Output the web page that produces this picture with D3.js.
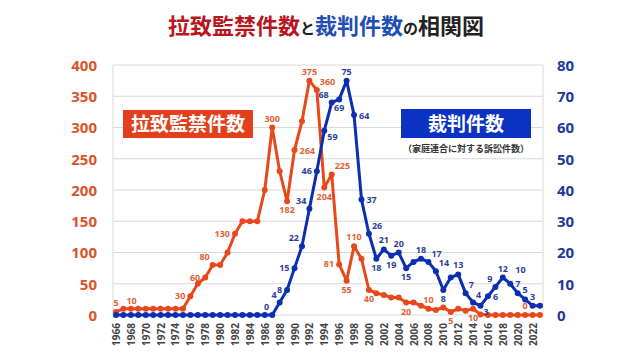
<!DOCTYPE html>
<html><head><meta charset="utf-8">
<script src="https://cdn.jsdelivr.net/npm/d3@7"></script>
<style>
html,body{margin:0;padding:0;background:#fff;}
svg{display:block;}
</style></head>
<body><svg id="c" width="640" height="360"></svg>
<script>
const years = d3.range(1966, 2024);
const abduction = [5,10,10,10,10,10,10,10,10,10,30,50,60,80,80,100,130,150,150,150,200,300,230,182,264,310,375,360,204,225,81,55,110,90,40,35,32,28,28,20,20,15,10,8,12,5,10,7,10,1,0,0,0,0,0,0,0,0];
const lawsuits = [0,0,0,0,0,0,0,0,0,0,0,0,0,0,0,0,0,0,0,0,0,0,4,8,15,22,34,46,59,68,69,75,64,37,26,18,21,19,20,15,17,18,17,14,8,12,13,7,4,3,6,9,12,10,7,5,3,3];
const leftTicks = [0,50,100,150,200,250,300,350,400];
const rightTicks = [0,10,20,30,40,50,60,70,80];
const xTickYears = d3.range(1966, 2023, 2);
// labelled points: [year, placement]
const abductionLabels = [[1966,"t"],[1967,"tr"],[1976,"l"],[1978,"l"],[1979,"tl"],[1982,"l"],[1987,"t"],[1989,"b"],[1990,"r"],[1992,"t"],[1993,"tr"],[1994,"b"],[1995,"tr"],[1996,"l"],[1997,"b"],[1998,"t"],[2000,"b"],[2005,"b"],[2008,"t"],[2011,"b"],[2014,"b"],[2021,"t"]];
const lawsuitLabels = [[1987,"tl"],[1988,"tl"],[1989,"l"],[1990,"l"],[1991,"tl"],[1992,"tl"],[1993,"l"],[1994,"br"],[1995,"tl"],[1996,"b"],[1997,"t"],[1998,"r"],[1999,"r"],[2000,"tr"],[2001,"b"],[2002,"t"],[2003,"b"],[2004,"t"],[2005,"b"],[2007,"t"],[2008,"tr"],[2009,"tr"],[2010,"b"],[2012,"t"],[2013,"tr"],[2014,"tr"],[2015,"br"],[2016,"r"],[2017,"tl"],[2018,"t"],[2019,"tr2"],[2020,"t"],[2021,"t"],[2022,"t"]];

const RED = "#E8481C", BLUE = "#0B2FB0";
const RED_TXT = "#D9532B", BLUE_TXT = "#22389A";
const M = {left:113, right:97, top:65, bottom:45};
const W = 640, H = 360;
const svg = d3.select("#c");
const jp = "'Noto Sans CJK JP','Noto Sans',sans-serif";
const num = "'Noto Sans','DejaVu Sans',sans-serif";

const x = d3.scalePoint().domain(years).range([M.left, W - M.right]).padding(0.4);
const yL = d3.scaleLinear().domain([0,400]).range([H - M.bottom, M.top]);
const yR = d3.scaleLinear().domain([0,80]).range([H - M.bottom, M.top]);

// grid
const g = svg.append("g");
g.selectAll("line.grid").data(leftTicks).join("line")
  .attr("x1", M.left).attr("x2", W - M.right)
  .attr("y1", d => yL(d)).attr("y2", d => yL(d))
  .attr("stroke", "#d9d9d9").attr("stroke-width", 1);
g.append("line").attr("x1", M.left).attr("x2", M.left).attr("y1", M.top).attr("y2", H - M.bottom).attr("stroke", "#d9d9d9");
g.append("line").attr("x1", W - M.right).attr("x2", W - M.right).attr("y1", M.top).attr("y2", H - M.bottom).attr("stroke", "#d9d9d9");

// left axis
const axL = svg.append("g").attr("transform", `translate(${M.left - 16},0)`)
  .call(d3.axisLeft(yL).tickValues(leftTicks).tickSize(0).tickPadding(0));
axL.select(".domain").remove();
axL.selectAll("text").attr("fill", RED_TXT).style("font", `bold 15px ${num}`).attr("dy", "0.35em");

// right axis
const axR = svg.append("g").attr("transform", `translate(${W - M.right + 14},0)`)
  .call(d3.axisRight(yR).tickValues(rightTicks).tickSize(0).tickPadding(0));
axR.select(".domain").remove();
axR.selectAll("text").attr("fill", BLUE_TXT).style("font", `bold 15px ${num}`).attr("dy", "0.35em");

// x axis
const axX = svg.append("g").attr("transform", `translate(0,${H - M.bottom + 6})`)
  .call(d3.axisBottom(x).tickValues(xTickYears).tickSize(0).tickPadding(0));
axX.select(".domain").remove();
axX.selectAll("text").attr("fill", "#444").style("font", `bold 10px ${num}`)
  .attr("transform", "rotate(-90)").attr("text-anchor", "end").attr("x", -2).attr("y", 0).attr("dy", "0.35em");

// lines
function drawSeries(vals, yS, color) {
  const pts = years.map((yr, i) => ({yr, v: vals[i]}));
  svg.append("path").datum(pts)
    .attr("fill", "none").attr("stroke", color).attr("stroke-width", 3).attr("stroke-linejoin", "round")
    .attr("d", d3.line().x(d => x(d.yr)).y(d => yS(d.v)));
  svg.append("g").selectAll("circle").data(pts).join("circle")
    .attr("cx", d => x(d.yr)).attr("cy", d => yS(d.v)).attr("r", 3).attr("fill", color);
}
drawSeries(abduction, yL, RED);
drawSeries(lawsuits, yR, BLUE);

function drawLabels(list, vals, yS, color) {
  const off = {
    t:[0,-6,"middle"], b:[0,12,"middle"], l:[-5,3,"end"], r:[5,4,"start"],
    tl:[-3,-5,"end"], tr:[3,-5,"start"], tr2:[5,-11,"start"], bl:[-3,11,"end"], br:[3,9,"start"]
  };
  svg.append("g").selectAll("text").data(list).join("text")
    .attr("x", d => x(d[0]) + off[d[1]][0])
    .attr("y", d => yS(vals[years.indexOf(d[0])]) + off[d[1]][1])
    .attr("text-anchor", d => off[d[1]][2])
    .attr("fill", color).style("font", `bold 9px ${num}`)
    .text(d => vals[years.indexOf(d[0])]);
}
drawLabels(abductionLabels, abduction, yL, "#DD6236");
drawLabels(lawsuitLabels, lawsuits, yR, "#2B3F9C");

// legend boxes
svg.append("rect").attr("x", 123).attr("y", 110).attr("width", 130).attr("height", 28).attr("fill", "#E2401A");
svg.append("text").attr("x", 188).attr("y", 131).attr("text-anchor", "middle").attr("fill", "#fff")
  .style("font", `bold 19px ${jp}`).text("拉致監禁件数");
svg.append("rect").attr("x", 401).attr("y", 109).attr("width", 130).attr("height", 29).attr("fill", "#0A33C4");
svg.append("text").attr("x", 466).attr("y", 131).attr("text-anchor", "middle").attr("fill", "#fff")
  .style("font", `bold 19px ${jp}`).text("裁判件数");
svg.append("text").attr("x", 466).attr("y", 152).attr("text-anchor", "middle").attr("fill", "#333")
  .style("font", `bold 9px ${jp}`).text("（家庭連合に対する訴訟件数）");

// title
const t = svg.append("text").attr("x", 326).attr("y", 34).attr("text-anchor", "middle").style("font", `bold 22px ${jp}`);
t.append("tspan").attr("fill", "#B8161E").text("拉致監禁件数");
t.append("tspan").attr("fill", "#222").style("font-size", "15px").text("と");
t.append("tspan").attr("fill", "#1F4FB5").text("裁判件数");
t.append("tspan").attr("fill", "#222").style("font-size", "15px").text("の");
t.append("tspan").attr("fill", "#222").text("相関図");
</script></body></html>
